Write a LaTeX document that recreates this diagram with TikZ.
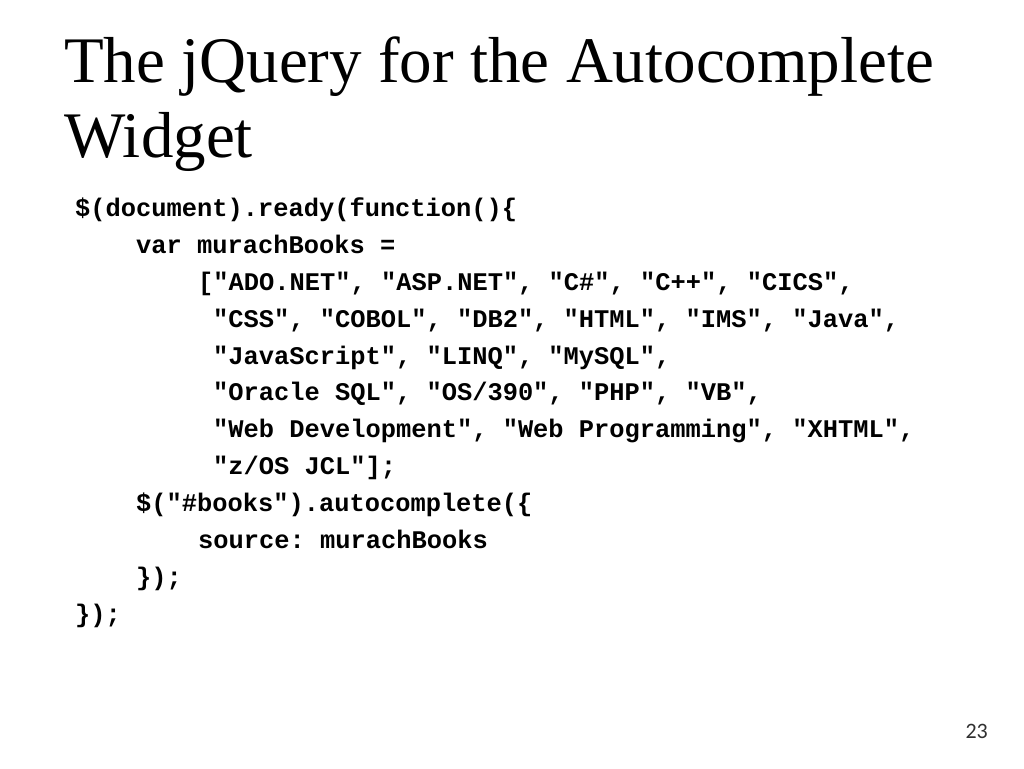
\documentclass[tikz,border=0pt]{standalone}
\usepackage{fontspec}
\usepackage{xcolor}
\setmainfont{Liberation Serif}
\newfontfamily\codefont{Liberation Mono}
\newfontfamily\numfont{Carlito}
\definecolor{slide-text}{HTML}{000000}
\definecolor{slide-number}{HTML}{303030}
\usepackage{tikz}

\begin{document}
\begin{tikzpicture}[x=1pt, y=-1pt,
    titleline/.style={anchor=base west, inner sep=0pt, text=slide-text,
        font=\fontsize{65}{70}\selectfont},
    codeline/.style={anchor=base west, inner sep=0pt, text=slide-text,
        font=\codefont\bfseries\frenchspacing\fontsize{25.4}{30}\selectfont}]

    % Page
    \useasboundingbox[fill=white] (0, 0) rectangle (1024, 768);

    % Title
    \node[titleline] (title-a) at (64, 82) {The jQuery for the Autocomplete};
    \node[titleline] (title-b) at (64, 157) {Widget};

    % Code
    \node[codeline] (code-a) at (75, 216) {\$(document).ready(function()\{};
    \node[codeline] (code-b) at (136, 253) {var murachBooks =};
    \node[codeline] (code-c) at (198, 290) {["ADO.NET", "ASP.NET", "C\#", "C++", "CICS",};
    \node[codeline] (code-d) at (213, 327) {"CSS", "COBOL", "DB2", "HTML", "IMS", "Java",};
    \node[codeline] (code-e) at (213, 364) {"JavaScript", "LINQ", "MySQL",};
    \node[codeline] (code-f) at (213, 400) {"Oracle SQL", "OS/390", "PHP", "VB",};
    \node[codeline] (code-g) at (213, 437) {"Web Development", "Web Programming", "XHTML",};
    \node[codeline] (code-h) at (213, 474) {"z/OS JCL"];};
    \node[codeline] (code-i) at (136, 511) {\$("\#books").autocomplete(\{};
    \node[codeline] (code-j) at (198, 548) {source: murachBooks};
    \node[codeline] (code-k) at (136, 585) {\});};
    \node[codeline] (code-l) at (75, 622) {\});};

    % Slide number
    \node[anchor=base east, inner sep=0pt, text=slide-number,
          font=\numfont\fontsize{22}{24}\selectfont] (page) at (988, 738) {23};

\end{tikzpicture}
\end{document}
